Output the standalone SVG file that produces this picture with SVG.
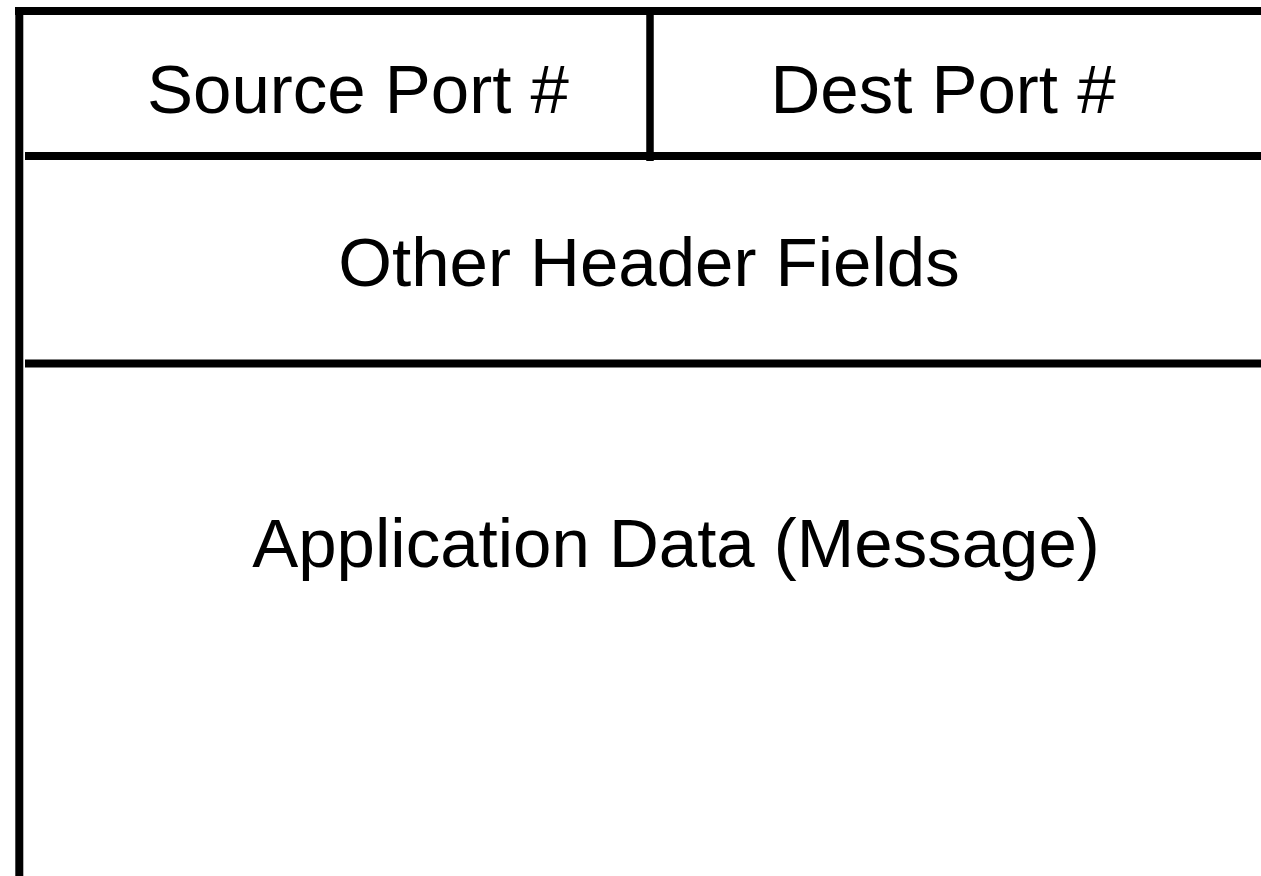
<svg xmlns="http://www.w3.org/2000/svg" width="1261" height="876" viewBox="0 0 1261 876">
<style>
.ln{stroke:#000;stroke-width:8;fill:none}
.t{font-family:"Liberation Sans",Arial,sans-serif;font-size:69px;fill:#000;text-anchor:middle}
</style>
<rect width="1261" height="876" fill="#fff"/>
<g id="frame">
<line class="ln" x1="15" y1="11" x2="1261" y2="11"/>
<line class="ln" x1="19.3" y1="7" x2="19.3" y2="876"/>
<line class="ln" x1="25" y1="156" x2="1261" y2="156"/>
<line class="ln" x1="25" y1="363.5" x2="1261" y2="363.5"/>
<line class="ln" x1="650" y1="15" x2="650" y2="161" style="stroke-width:7.5"/>
</g>
<g id="source-port"><text class="t" x="358" y="113">Source Port #</text></g>
<g id="dest-port"><text class="t" x="943" y="113">Dest Port #</text></g>
<g id="other-header"><text class="t" x="649" y="286">Other Header Fields</text></g>
<g id="app-data"><text class="t" x="676" y="567">Application Data (Message)</text></g>
</svg>
